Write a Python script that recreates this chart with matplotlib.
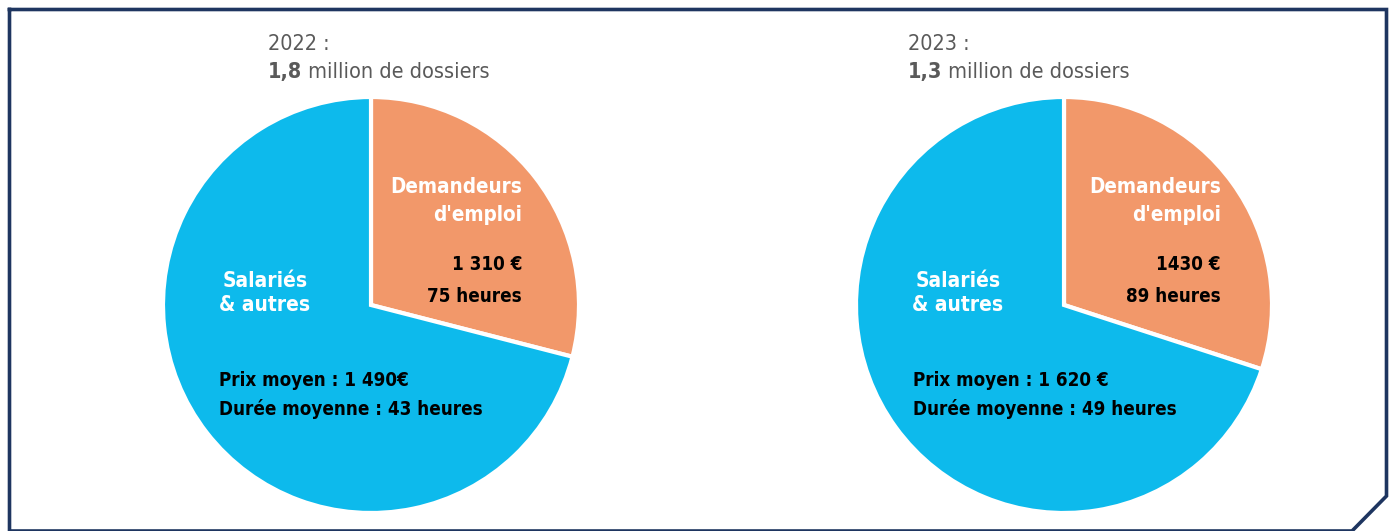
import matplotlib
matplotlib.use("Agg")
import matplotlib.pyplot as plt
from matplotlib.offsetbox import TextArea, HPacker, AnnotationBbox

years = ["2022", "2023"]
dossiers = ["1,8", "1,3"]
categories = ["Demandeurs\nd'emploi", "Salariés\n& autres"]
shares_2022 = [29, 71]
shares_2023 = [30, 70]
shares = [shares_2022, shares_2023]
prix_demandeurs = ["1 310 €", "1430 €"]
heures_demandeurs = ["75 heures", "89 heures"]
prix_salaries = ["Prix moyen : 1 490€", "Prix moyen : 1 620 €"]
duree_salaries = ["Durée moyenne : 43 heures", "Durée moyenne : 49 heures"]

colors = ["#F2986A", "#0DBAEC"]
navy = "#1E3560"
gray = "#5a5a5a"
cond = dict(family="DejaVu Sans", fontstretch="condensed")
reg = dict(family="DejaVu Sans", fontstretch="condensed")

W, H = 1391, 531
fig = plt.figure(figsize=(W / 100, H / 100), dpi=100)
ax = fig.add_axes([0, 0, 1, 1])
ax.set_xlim(0, W)
ax.set_ylim(0, H)
ax.set_aspect("equal")
ax.axis("off")

def Y(y):
    return H - y

# frame with cut corner
fx = [9.5, 1386.5, 1386.5, 1352, 9.5, 9.5]
fy = [Y(9.5), Y(9.5), Y(496), Y(531), Y(531), Y(9.5)]
ax.plot(fx, fy, color=navy, lw=2.6, solid_joinstyle="miter", clip_on=False)

centers = [(371, 305), (1064, 305)]
radius = 208
title_x = [268, 908]
dem_right = [522, 1221]
sal_center = [265, 958]
prix_left = [219, 913]

for i in range(2):
    cx, cy = centers[i]
    ax.pie(shares[i], colors=colors, startangle=90, counterclock=False,
           center=(cx, Y(cy)), radius=radius, frame=True,
           wedgeprops=dict(edgecolor="white", linewidth=3))
    ax.text(title_x[i], Y(44), f"{years[i]} :", fontsize=15.5,
            color=gray, ha="left", va="center", **reg)
    ta1 = TextArea(dossiers[i], textprops=dict(fontsize=15.5, color=gray,
                                                 fontweight="bold", **reg))
    ta2 = TextArea(" million de dossiers", textprops=dict(fontsize=15.5,
                                                           color=gray, **reg))
    pack = HPacker(children=[ta1, ta2], align="baseline", pad=0, sep=0)
    ab = AnnotationBbox(pack, (title_x[i], Y(72)), xycoords="data",
                        box_alignment=(0, 0.5), frameon=False, pad=0)
    ax.add_artist(ab)
    ax.text(dem_right[i], Y(201), categories[0], fontsize=14.8,
            fontweight="bold", color="white", ha="right", va="center",
            linespacing=1.45, **cond)
    ax.text(dem_right[i], Y(264), prix_demandeurs[i], fontsize=13.5,
            fontweight="bold", color="black", ha="right", va="center", **cond)
    ax.text(dem_right[i], Y(296), heures_demandeurs[i], fontsize=13.5,
            fontweight="bold", color="black", ha="right", va="center", **cond)
    ax.text(sal_center[i], Y(293), categories[1], fontsize=15,
            fontweight="bold", color="white", ha="center", va="center",
            linespacing=1.2, **cond)
    ax.text(prix_left[i], Y(380), prix_salaries[i], fontsize=13.5,
            fontweight="bold", color="black", ha="left", va="center", **cond)
    ax.text(prix_left[i], Y(409), duree_salaries[i], fontsize=13.5,
            fontweight="bold", color="black", ha="left", va="center", **cond)

fig.savefig("out.png", dpi=100)
